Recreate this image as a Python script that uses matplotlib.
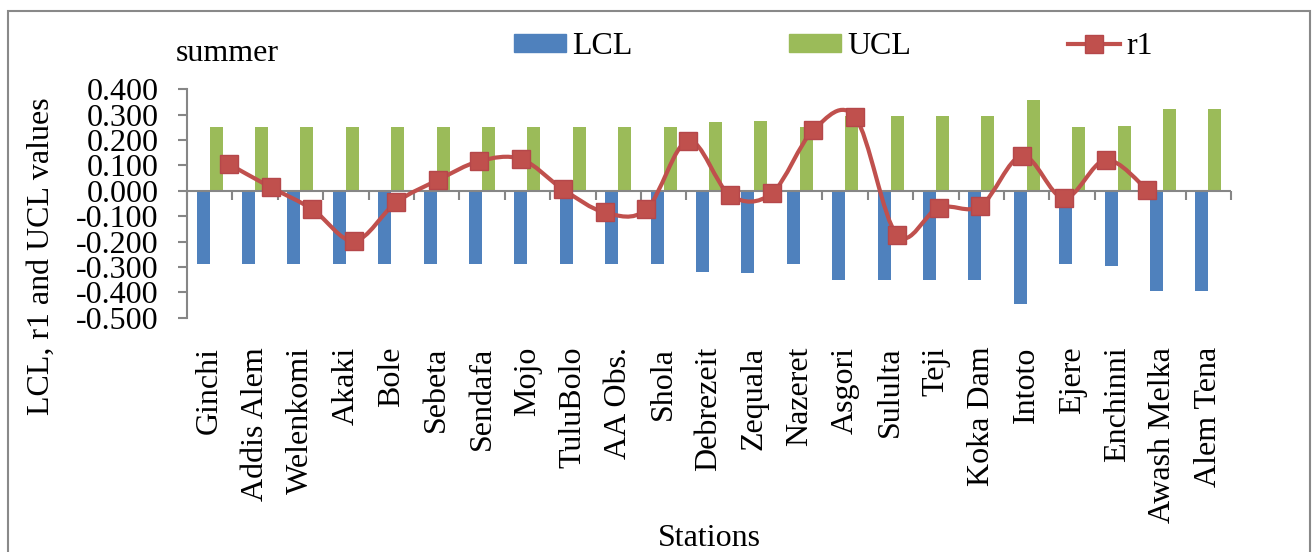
import numpy as np
import matplotlib
matplotlib.use('Agg')
import matplotlib.pyplot as plt
from matplotlib.path import Path
from matplotlib.patches import PathPatch, Patch, Rectangle
from matplotlib.lines import Line2D
from matplotlib.ticker import FormatStrFormatter

plt.rcParams['font.family'] = ['Liberation Serif', 'DejaVu Serif']
plt.rcParams['axes.unicode_minus'] = False

stations = ['Ginchi', 'Addis Alem', 'Welenkomi', 'Akaki', 'Bole', 'Sebeta',
            'Sendafa', 'Mojo', 'TuluBolo', 'AA Obs.', 'Shola', 'Debrezeit',
            'Zequala', 'Nazeret', 'Asgori', 'Sululta', 'Teji', 'Koka Dam',
            'Intoto', 'Ejere', 'Enchinni', 'Awash Melka', 'Alem Tena']
lcl = [-0.289, -0.289, -0.289, -0.289, -0.289, -0.289, -0.289, -0.289,
       -0.289, -0.289, -0.289, -0.321, -0.324, -0.289, -0.353, -0.353,
       -0.353, -0.353, -0.447, -0.289, -0.295, -0.393, -0.393]
ucl = [0.251, 0.251, 0.251, 0.251, 0.251, 0.251, 0.251, 0.251, 0.251,
       0.251, 0.251, 0.271, 0.275, 0.251, 0.295, 0.295, 0.295, 0.295,
       0.356, 0.251, 0.255, 0.323, 0.323]
r1 = [0.105, 0.014, -0.073, -0.198, -0.046, 0.042, 0.117, 0.125, 0.006,
      -0.085, -0.073, 0.198, -0.017, -0.010, 0.240, 0.290, -0.174, -0.066,
      -0.060, 0.138, -0.029, 0.122, 0.003]

c_lcl = '#4F81BD'
c_ucl = '#9BBB59'
c_r1 = '#C0504D'
grey = '#868686'
fs = 23

fig = plt.figure(figsize=(13.14, 5.52), dpi=100)
W, H = 1314, 552
ax = fig.add_axes([187 / W, 1 - 317.7 / H, (1231 - 187) / W, (317.7 - 89.3) / H])

x = np.arange(len(stations))
w = 0.286
ax.bar(x - w / 2, lcl, w, color=c_lcl, zorder=2)
ax.bar(x + w / 2, ucl, w, color=c_ucl, zorder=2)

# zero line with category tick marks
ax.axhline(0, color=grey, lw=1.5, zorder=3)
bounds = np.arange(len(stations) + 1) - 0.5
ax.plot(bounds, np.zeros(len(bounds)), ls='none', marker=3, ms=6.5,
        mew=1.5, color=grey, zorder=3, clip_on=False)

# r1 line (excel smoothed line, points sit on a slightly narrower spacing)
xr = np.linspace(0.425, 20.66, len(r1))
pts = np.column_stack([xr, r1])
n = len(pts)
verts = [pts[0]]
codes = [Path.MOVETO]
for i in range(n - 1):
    p0 = pts[i - 1] if i > 0 else pts[i]
    p1 = pts[i]
    p2 = pts[i + 1]
    p3 = pts[i + 2] if i + 2 < n else pts[i + 1]
    verts += [p1 + (p2 - p0) / 6, p2 - (p3 - p1) / 6, p2]
    codes += [Path.CURVE4] * 3
ax.add_patch(PathPatch(Path(verts, codes), facecolor='none', edgecolor=c_r1,
                       lw=3, zorder=4))
ax.plot(xr, r1, ls='none', marker='s', ms=13.5, color=c_r1,
        mec='#B5474A', mew=1, zorder=5)

ax.set_xlim(-0.5, len(stations) - 0.5)
ax.set_ylim(-0.5, 0.4)
ax.set_yticks(np.round(np.arange(-5, 5) * 0.1, 1))
ax.yaxis.set_major_formatter(FormatStrFormatter('%.3f'))
ax.set_xticks(x)
ax.set_xticklabels(stations, rotation=90)

for s in ['top', 'right', 'bottom']:
    ax.spines[s].set_visible(False)
ax.spines['left'].set_color(grey)
ax.spines['left'].set_linewidth(1.5)
ax.tick_params(axis='y', direction='out', length=6.5, width=1.5, color=grey,
               labelsize=fs, pad=14)
ax.tick_params(axis='x', length=0, labelsize=fs, pad=21)

fig.text(41 / W, 1 - 256 / H, 'LCL, r1 and UCL values', rotation=90,
         ha='center', va='center', fontsize=fs)
fig.text(709 / W, 1 - 546 / H, 'Stations', ha='center', va='baseline',
         fontsize=fs)
fig.text(176 / W, 1 - 61 / H, 'summer', ha='left', va='baseline', fontsize=fs)

handles = [Patch(color=c_lcl), Patch(color=c_ucl),
           Line2D([], [], color=c_r1, lw=3, marker='s', ms=13.5, mec='#B5474A')]
fig.legend(handles, ['LCL', 'UCL', 'r1'], loc='center left',
           bbox_to_anchor=(514 / W, 1 - 47 / H), ncol=3, frameon=False,
           fontsize=fs, handlelength=1.63, handleheight=0.47, handletextpad=0.2,
           columnspacing=4.9, borderpad=0, borderaxespad=0)

# outer chart border
fig.patches.append(Rectangle((8 / W, -0.05), (1310 - 8) / W, 1.05 - 11 / H,
                             transform=fig.transFigure, fill=False,
                             edgecolor='#898989', lw=1.5))

fig.savefig('out.png', dpi=100)
